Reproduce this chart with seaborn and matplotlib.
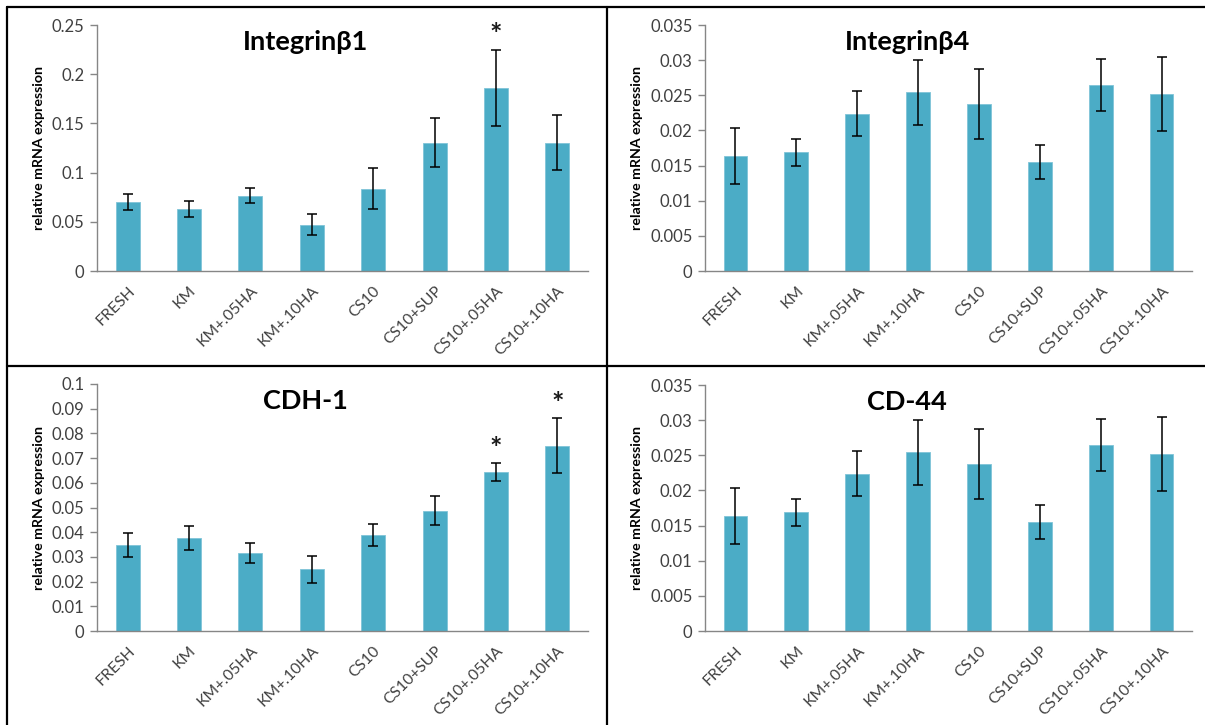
import matplotlib
matplotlib.use("Agg")
import matplotlib.pyplot as plt
from matplotlib.lines import Line2D
from matplotlib.ticker import FixedLocator, FuncFormatter
import numpy as np
import pandas as pd
import seaborn as sns

# Treatment groups shared by all four panels
categories = ["FRESH", "KM", "KM+.05HA", "KM+.10HA", "CS10", "CS10+SUP",
              "CS10+.05HA", "CS10+.10HA"]

# Integrin beta 1
itgb1_mean = [0.070, 0.063, 0.0764, 0.047, 0.0838, 0.1305, 0.186, 0.1305]
itgb1_err = [0.0078, 0.0085, 0.0077, 0.0105, 0.021, 0.025, 0.039, 0.028]
itgb1_sig = [6]

# Integrin beta 4
itgb4_mean = [0.0164, 0.0169, 0.0224, 0.0254, 0.0238, 0.0155, 0.0265, 0.0252]
itgb4_err = [0.0040, 0.0019, 0.0032, 0.0046, 0.0050, 0.0024, 0.0037, 0.0053]
itgb4_sig = []

# E-cadherin
cdh1_mean = [0.0347, 0.0377, 0.0316, 0.0250, 0.0388, 0.0487, 0.0643, 0.0750]
cdh1_err = [0.0048, 0.0050, 0.0041, 0.0054, 0.0045, 0.0059, 0.0036, 0.0112]
cdh1_sig = [6, 7]

# CD44
cd44_mean = [0.0164, 0.0169, 0.0224, 0.0254, 0.0238, 0.0155, 0.0265, 0.0252]
cd44_err = [0.0040, 0.0019, 0.0032, 0.0046, 0.0050, 0.0024, 0.0037, 0.0053]
cd44_sig = []

sns.set_theme(style="white")
plt.rcParams["font.family"] = ["Lato", "DejaVu Sans"]

BAR = "#4BACC6"
AXIS = "#868686"
TEXT = "#404040"

W, H = 1205, 725
fig = plt.figure(figsize=(W / 100, H / 100), dpi=100)
fig.patch.set_facecolor("white")


def px_axes(left, right, bottom, top):
    return fig.add_axes([left / W, 1 - bottom / H, (right - left) / W, (bottom - top) / H])


panels = [
    dict(title="Integrin\u03b21", mean=itgb1_mean, err=itgb1_err, sig=itgb1_sig,
         ymax=0.25, step=0.05, box=(97, 588, 271, 25), tx=0.424),
    dict(title="Integrin\u03b24", mean=itgb4_mean, err=itgb4_err, sig=itgb4_sig,
         ymax=0.035, step=0.005, box=(705, 1192, 271, 25), tx=0.415),
    dict(title="CDH-1", mean=cdh1_mean, err=cdh1_err, sig=cdh1_sig,
         ymax=0.1, step=0.01, box=(97, 588, 631, 384), tx=0.424),
    dict(title="CD-44", mean=cd44_mean, err=cd44_err, sig=cd44_sig,
         ymax=0.035, step=0.005, box=(705, 1192, 631, 385), tx=0.415),
]

fmt = FuncFormatter(lambda v, p: "0" if abs(v) < 1e-12 else ("%.3f" % v).rstrip("0").rstrip("."))

for p in panels:
    ax = px_axes(*p["box"])
    df = pd.DataFrame({"group": categories, "value": p["mean"]})
    sns.barplot(data=df, x="group", y="value", color=BAR, saturation=1,
                width=0.39, errorbar=None, ax=ax, edgecolor="#7FC4D8", linewidth=0.6)
    x = np.arange(len(categories))
    ax.errorbar(x, p["mean"], yerr=p["err"], fmt="none", ecolor="black",
                elinewidth=1.1, capsize=3.5, capthick=1.1, zorder=5)
    for i in p["sig"]:
        ax.text(i, p["mean"][i] + p["err"][i] + p["ymax"] * 0.005, "*",
                ha="center", va="bottom", fontsize=21, fontweight="bold", color="#1a1a1a")

    ax.set_xlim(-0.5, len(categories) - 0.5)
    ax.set_ylim(0, p["ymax"])
    ax.yaxis.set_major_locator(FixedLocator(np.round(np.arange(0, p["ymax"] + 1e-9, p["step"]), 4)))
    ax.yaxis.set_major_formatter(fmt)
    ax.set_xticks(x)
    ax.set_xticklabels(categories, rotation=45, ha="right", rotation_mode="anchor")
    ax.set_xticks(np.arange(-0.5, len(categories)), minor=True)
    ax.tick_params(axis="x", which="major", length=0, pad=9, labelsize=11.3, labelcolor=TEXT)
    ax.tick_params(axis="x", which="minor", length=5, width=1, color=AXIS, direction="out")
    ax.tick_params(axis="y", which="major", length=5, width=1, color=AXIS, direction="out",
                   labelsize=12, labelcolor=TEXT, pad=4, left=True)
    ax.set_xlabel("")
    ax.set_ylabel("relative mRNA expression", fontsize=10.2, fontweight="bold", color="black",
                  labelpad=5)
    for s in ["top", "right"]:
        ax.spines[s].set_visible(False)
    for s in ["left", "bottom"]:
        ax.spines[s].set_color(AXIS)
        ax.spines[s].set_linewidth(1)
    ax.text(p["tx"], 0.93, p["title"], transform=ax.transAxes, ha="center", va="center",
            fontsize=19.5, fontweight="bold", color="black")
    ax.set_facecolor("none")

# Frame lines around the grid of panels
frame = [((7, 7), (7, 725)), ((7, 1205), (7, 7)), ((607, 607), (7, 725)), ((7, 1205), (366, 366))]
for xs, ys in frame:
    fig.add_artist(Line2D([v / W for v in xs], [1 - v / H for v in ys],
                          color="black", linewidth=1.6))

fig.savefig("out.png", dpi=100, facecolor="white")
